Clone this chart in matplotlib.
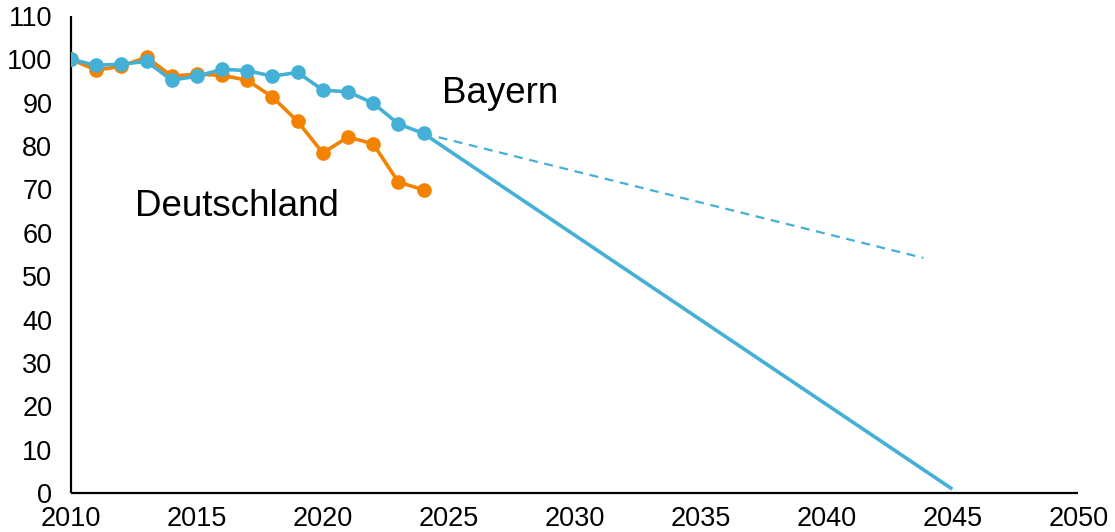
import matplotlib
matplotlib.use("Agg")
import matplotlib.pyplot as plt

years = list(range(2010, 2025))
bayern = [100, 98.6, 98.9, 99.5, 95.2, 96.1, 97.7, 97.4, 96.1, 97.0, 92.9, 92.5, 89.9, 85.1, 82.9]
deutschland = [100, 97.5, 98.4, 100.5, 96.1, 96.6, 96.3, 95.2, 91.3, 85.7, 78.4, 82.1, 80.5, 71.7, 69.9]

target_years = [2024, 2045.0]
target_values = [82.9, 0.9]
trend_years = [2024, 2043.85]
trend_values = [82.9, 54.2]

xticks = list(range(2010, 2051, 5))
yticks = list(range(0, 111, 10))

blue = "#45B0D6"
orange = "#F38200"

plt.rcParams['font.family'] = ['Liberation Sans', 'DejaVu Sans']

fig = plt.figure(figsize=(11.15, 5.32), dpi=100)
ax = fig.add_axes([0.0637, 0.0733, 0.9033, 0.8967])

ax.plot(trend_years, trend_values, color=blue, lw=1.6, ls=(0, (4, 3)))
ax.plot(target_years, target_values, color=blue, lw=2.6, solid_capstyle='butt')
ax.plot(years, deutschland, color=orange, lw=2.6, marker='o', ms=9.5, zorder=3)
ax.plot(years, bayern, color=blue, lw=2.6, marker='o', ms=9.5, zorder=4)

ax.text(2027.05, 92.1, "Bayern", fontsize=26.5, ha='center', va='center')
ax.text(2016.6, 66.1, "Deutschland", fontsize=26.5, ha='center', va='center')

ax.set_xlim(2010, 2050)
ax.set_ylim(0, 110)
ax.set_xticks(xticks)
ax.set_yticks(yticks)
ax.tick_params(axis='both', length=0, labelsize=19.5)
ax.tick_params(axis='y', pad=13.5)
ax.tick_params(axis='x', pad=9.5)
for s in ['top', 'right']:
    ax.spines[s].set_visible(False)
for s in ['left', 'bottom']:
    ax.spines[s].set_linewidth(1.6)
    ax.spines[s].set_color('black')
    ax.spines[s].set_capstyle('butt')

fig.savefig("out.png", dpi=100)
